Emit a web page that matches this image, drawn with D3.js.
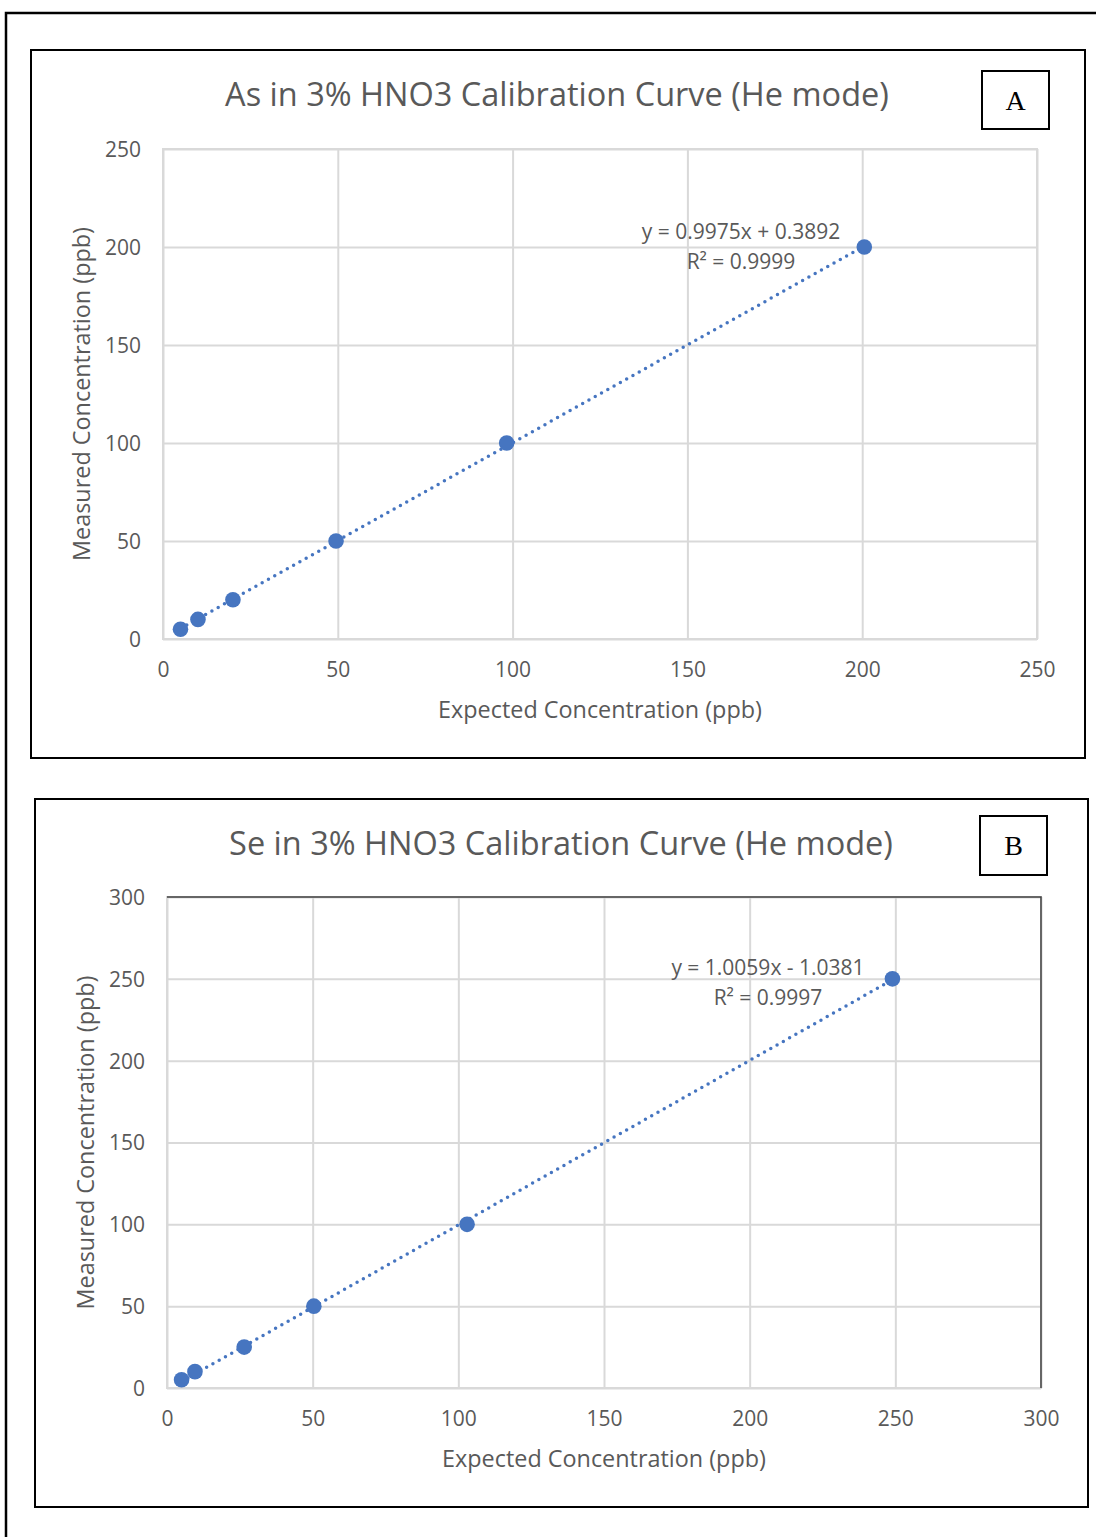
<!DOCTYPE html>
<html>
<head>
<meta charset="utf-8">
<script src="https://cdn.jsdelivr.net/npm/d3@7"></script>
<style>
  body { margin: 0; background: #fff; }
  text { font-family: 'Open Sans', sans-serif; fill: #595959; }
</style>
</head>
<body>
<div id="chart"></div>
<script>
// Calibration data
const asExpected = [5, 10, 20, 49.5, 98.3, 200.6]
const asMeasured = [5, 10, 20, 50, 100, 200]
const asFit = [0.9975, 0.3892]   // slope, intercept
const asTicks = [0, 50, 100, 150, 200, 250]

const seExpected = [5, 9.6, 26.5, 50.4, 103, 249]
const seMeasured = [5, 10, 25, 50, 100, 250]
const seFit = [1.0059, -1.0381]
const seTicks = [0, 50, 100, 150, 200, 250, 300]

const width = 1096
const height = 1537
const blue = '#4675c0'
const grid = '#d9d9d9'

const svg = d3.select('#chart')
  .append('svg')
  .attr('width', width)
  .attr('height', height)

// outer page frame (only left and top visible)
svg.append('path')
  .attr('d', `M6,${height + 5} V13 H${width + 5}`)
  .attr('fill', 'none')
  .attr('stroke', '#000')
  .attr('stroke-width', 2.5)

const panels = [
  {
    frame: [31, 50, 1085, 758],
    plot: [163, 149, 1037, 639],
    title: 'As in 3% HNO3 Calibration Curve (He mode)',
    titleX: 557,
    letter: 'A', letterBox: [982, 71, 1049, 129],
    xs: asExpected, ys: asMeasured, fit: asFit, ticks: asTicks,
    eq: ['y = 0.9975x + 0.3892', 'R² = 0.9999'], eqPos: [741, 239],
    darkTop: false
  },
  {
    frame: [35, 799, 1088, 1507],
    plot: [167, 897, 1041, 1388],
    title: 'Se in 3% HNO3 Calibration Curve (He mode)',
    titleX: 561,
    letter: 'B', letterBox: [980, 816, 1047, 875],
    xs: seExpected, ys: seMeasured, fit: seFit, ticks: seTicks,
    eq: ['y = 1.0059x - 1.0381', 'R² = 0.9997'], eqPos: [768, 975],
    darkTop: true
  }
]

panels.forEach(p => {
  const g = svg.append('g')
  const [fx0, fy0, fx1, fy1] = p.frame
  const [px0, py0, px1, py1] = p.plot
  const max = d3.max(p.ticks)

  g.append('rect')
    .attr('x', fx0).attr('y', fy0)
    .attr('width', fx1 - fx0).attr('height', fy1 - fy0)
    .attr('fill', '#fff')
    .attr('stroke', '#000')
    .attr('stroke-width', 2)

  const x = d3.scaleLinear().domain([0, max]).range([px0, px1])
  const y = d3.scaleLinear().domain([0, max]).range([py1, py0])

  // gridlines
  g.append('g')
    .attr('transform', `translate(0,${py1})`)
    .call(d3.axisBottom(x).tickValues(p.ticks).tickSize(-(py1 - py0)).tickFormat(''))
    .call(a => a.select('.domain').remove())
    .selectAll('line').attr('stroke', grid).attr('stroke-width', 2)

  g.append('g')
    .attr('transform', `translate(${px0},0)`)
    .call(d3.axisLeft(y).tickValues(p.ticks).tickSize(-(px1 - px0)).tickFormat(''))
    .call(a => a.select('.domain').remove())
    .selectAll('line').attr('stroke', grid).attr('stroke-width', 2)

  // plot area border
  g.append('rect')
    .attr('x', px0).attr('y', py0)
    .attr('width', px1 - px0).attr('height', py1 - py0)
    .attr('fill', 'none')
    .attr('stroke', grid)
    .attr('stroke-width', 2)
  if (p.darkTop) {
    g.append('path')
      .attr('d', `M${px0},${py0} H${px1} V${py1}`)
      .attr('fill', 'none')
      .attr('stroke', '#404040')
      .attr('stroke-width', 1.5)
  }

  // tick labels
  g.append('g')
    .attr('transform', `translate(${px0 - 22},0)`)
    .call(d3.axisLeft(y).tickValues(p.ticks).tickSize(0))
    .call(a => a.select('.domain').remove())
    .selectAll('text')
    .attr('font-family', null)
    .style('font-size', '21px')
    .attr('x', 0)
    .attr('dy', '0.35em')

  g.append('g')
    .attr('transform', `translate(0,${py1 + 23})`)
    .call(d3.axisBottom(x).tickValues(p.ticks).tickSize(0))
    .call(a => a.select('.domain').remove())
    .selectAll('text')
    .attr('font-family', null)
    .style('font-size', '21px')
    .attr('y', 0)
    .attr('dy', '0.71em')

  // axis titles
  g.append('text')
    .attr('x', (px0 + px1) / 2)
    .attr('y', py1 + 71)
    .attr('dy', '0.35em')
    .attr('text-anchor', 'middle')
    .style('font-size', '23.4px')
    .text('Expected Concentration (ppb)')

  g.append('text')
    .attr('transform', `translate(${px0 - 81},${(py0 + py1) / 2}) rotate(-90)`)
    .attr('dy', '0.35em')
    .attr('text-anchor', 'middle')
    .style('font-size', '23.4px')
    .text('Measured Concentration (ppb)')

  // chart title
  g.append('text')
    .attr('x', p.titleX)
    .attr('y', fy0 + 45)
    .attr('dy', '0.35em')
    .attr('text-anchor', 'middle')
    .style('font-size', '32.5px')
    .text(p.title)

  // panel letter box
  const [lx0, ly0, lx1, ly1] = p.letterBox
  g.append('rect')
    .attr('x', lx0).attr('y', ly0)
    .attr('width', lx1 - lx0).attr('height', ly1 - ly0)
    .attr('fill', '#fff')
    .attr('stroke', '#000')
    .attr('stroke-width', 2)
  g.append('text')
    .attr('x', (lx0 + lx1) / 2)
    .attr('y', (ly0 + ly1) / 2)
    .attr('dy', '0.35em')
    .attr('text-anchor', 'middle')
    .style('font-family', "'Liberation Serif', serif")
    .style('font-size', '28px')
    .style('fill', '#000')
    .text(p.letter)

  // linear trendline across the data range
  const [m, b] = p.fit
  const ext = d3.extent(p.xs)
  g.append('line')
    .attr('x1', x(ext[0])).attr('y1', y(m * ext[0] + b))
    .attr('x2', x(ext[1])).attr('y2', y(m * ext[1] + b))
    .attr('stroke', blue)
    .attr('stroke-width', 3.5)
    .attr('stroke-linecap', 'round')
    .attr('stroke-dasharray', '0 7.2')

  // points
  g.selectAll('circle')
    .data(p.xs.map((d, i) => [d, p.ys[i]]))
    .enter().append('circle')
    .attr('cx', d => x(d[0]))
    .attr('cy', d => y(d[1]))
    .attr('r', 7.8)
    .attr('fill', blue)

  // equation label
  g.selectAll('.eq')
    .data(p.eq)
    .enter().append('text')
    .attr('class', 'eq')
    .attr('x', p.eqPos[0])
    .attr('y', (d, i) => p.eqPos[1] - 7 + i * 30)
    .attr('dy', '0.35em')
    .attr('text-anchor', 'middle')
    .style('font-size', '21px')
    .text(d => d)
})
</script>
</body>
</html>
